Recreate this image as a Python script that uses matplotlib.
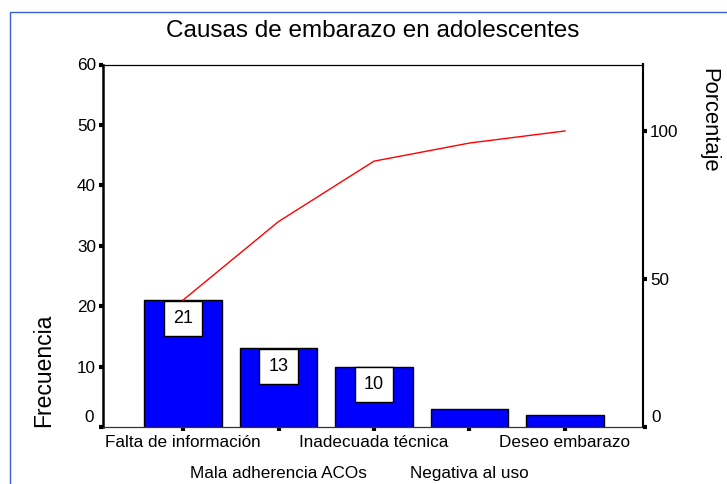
import numpy as np
import matplotlib
matplotlib.use("Agg")
import matplotlib.pyplot as plt
from matplotlib.patches import Rectangle

plt.rcParams['font.family'] = ['Liberation Sans', 'DejaVu Sans']

# data
causas = ['Falta de información', 'Mala adherencia ACOs', 'Inadecuada técnica',
          'Negativa al uso', 'Deseo embarazo']
frecuencia = [21, 13, 10, 3, 2]
etiquetas = ['21', '13', '10']  # only the tall bars carry a value box

total = sum(frecuencia)
porcentaje_acum = np.cumsum(frecuencia) / total * 100

fig = plt.figure(figsize=(7.27, 4.84), dpi=100)
W, H = 727, 484
ax = fig.add_axes([103 / W, 1 - 427 / H, (643 - 103) / W, (427 - 64.5) / H])

x = np.arange(len(causas))
ax.bar(x, frecuencia, width=0.815, color='#0000ff', edgecolor='black', linewidth=1.0, zorder=2)

for i, lab in enumerate(etiquetas):
    ax.annotate(lab, (x[i], frecuencia[i]), xytext=(0, -18), textcoords='offset pixels',
                ha='center', va='center', fontsize=13, zorder=4,
                bbox=dict(boxstyle='square,pad=0.5', facecolor='white', edgecolor='black', linewidth=1.0))

ax.set_xlim(-0.838, 4.817)
ax.set_ylim(0, 60)
ax.set_yticks([0, 10, 20, 30, 40, 50, 60])
ax.set_yticklabels(['', '10', '20', '30', '40', '50', '60'], fontsize=12.3)

# categories alternate between two rows: even ones on major ticks, odd ones on minor ticks
ax.set_xticks(x[::2])
ax.set_xticklabels(causas[::2], fontsize=12.3)
ax.set_xticks(x[1::2], minor=True)
ax.set_xticklabels(causas[1::2], minor=True, fontsize=12.3)
ax.tick_params(axis='both', which='both', direction='out', length=3, width=3, color='black', pad=2)
ax.tick_params(axis='x', which='major', pad=3)
ax.tick_params(axis='x', which='minor', pad=25)
ax.tick_params(axis='y', which='minor', left=False)

ax.spines['left'].set_linewidth(1.8)
ax.spines['top'].set_linewidth(0.9)
ax.spines['bottom'].set_linewidth(0.9)
ax.spines['bottom'].set_color('#333333')
ax.spines['right'].set_visible(False)

# the "0" labels sit a little higher than their ticks
ax.annotate('0', (0, 0), xycoords=('axes fraction', 'data'), xytext=(-9, 10),
            textcoords='offset pixels', ha='right', va='center', fontsize=12.3)

ax2 = ax.twinx()
ax2.plot(x, porcentaje_acum, color='#ff0000', linewidth=1.0, zorder=3)
ax2.set_ylim(0, 60 / total * 100)
ax2.set_yticks([0, 50, 100])
ax2.set_yticklabels(['', '50', '100'], fontsize=12.3)
ax2.tick_params(axis='y', direction='out', length=3, width=3, color='black', pad=2)
ax2.spines['right'].set_linewidth(1.5)
for s in ['left', 'top', 'bottom']:
    ax2.spines[s].set_visible(False)
ax2.annotate('0', (1, 0), xycoords=('axes fraction', 'data'), xytext=(8, 10),
             textcoords='offset pixels', ha='left', va='center', fontsize=12.3)

fig.text(373 / W, 1 - 31 / H, 'Causas de embarazo en adolescentes', ha='center', va='center',
         fontsize=17.5)
fig.text(43.5 / W, 1 - 370 / H, 'Frecuencia', rotation=90, ha='center', va='center', fontsize=16.5)
fig.text(709 / W, 1 - 120 / H, 'Porcentaje', rotation=-90, ha='center', va='center', fontsize=15.8)

# blue frame around the chart area
fig.patches.append(Rectangle((10 / W, -0.1), 1.2, 1 - 12 / H + 0.1, transform=fig.transFigure,
                             fill=False, edgecolor='#3a5fcd', linewidth=1.0))

fig.savefig('out.png', dpi=100)
